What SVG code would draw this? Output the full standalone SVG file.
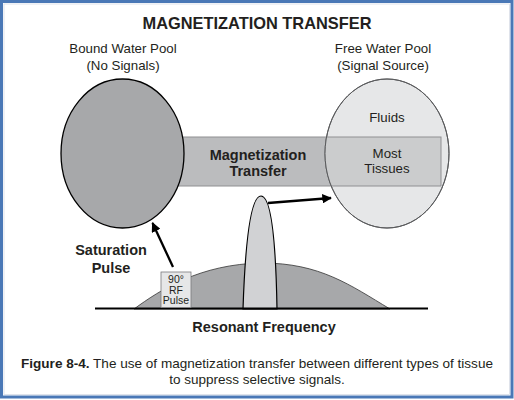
<svg xmlns="http://www.w3.org/2000/svg" width="514" height="400" viewBox="0 0 514 400">
<defs>
<style>
text{font-family:"Liberation Sans",Arial,sans-serif;fill:#231f20}
.b{font-weight:bold}
.lbl{font-size:13.3px}
.mid{text-anchor:middle}
</style>
<marker id="ah" viewBox="0 0 10 10" refX="9" refY="5" markerWidth="4.2" markerHeight="4.2" orient="auto" markerUnits="strokeWidth">
<path d="M0,0 L10,5 L0,10 Z" fill="#000"/>
</marker>
<clipPath id="freeClip"><ellipse cx="387" cy="153.5" rx="62" ry="74.5"/></clipPath>
</defs>
<rect x="1.5" y="1.5" width="510.5" height="395.5" fill="#fff" stroke="#4a78b6" stroke-width="3"/>
<rect x="4" y="4" width="505.5" height="390.5" fill="none" stroke="#d8dde6" stroke-width="0.8"/>

<text class="b mid" x="257" y="29" font-size="17" textLength="229" lengthAdjust="spacingAndGlyphs">MAGNETIZATION TRANSFER</text>

<g id="transfer-band">
<rect x="150" y="137" width="291" height="49" fill="#bbbcbe" stroke="#8f9092" stroke-width="1"/>
<text class="b mid" x="258" y="160" font-size="14.5">Magnetization</text>
<text class="b mid" x="258" y="176" font-size="14.5">Transfer</text>
</g>

<g id="bound-pool">
<ellipse cx="122.5" cy="153.5" rx="61.5" ry="74.5" fill="#a7a8aa" stroke="#000" stroke-width="1.3"/>
<text class="lbl mid" x="123" y="53">Bound Water Pool</text>
<text class="lbl mid" x="123" y="70">(No Signals)</text>
</g>

<g id="free-pool">
<ellipse cx="387" cy="153.5" rx="62" ry="74.5" fill="#e6e7e8" stroke="#5a5b5d" stroke-width="1"/>
<rect x="300" y="137" width="141" height="49" fill="#cbcccd" stroke="#8f9092" stroke-width="1" clip-path="url(#freeClip)"/>
<ellipse cx="387" cy="153.5" rx="62" ry="74.5" fill="none" stroke="#5a5b5d" stroke-width="1"/>
<text class="lbl mid" x="383" y="53">Free Water Pool</text>
<text class="lbl mid" x="383" y="70">(Signal Source)</text>
<text class="lbl mid" x="387" y="122">Fluids</text>
<text class="lbl mid" x="387" y="158">Most</text>
<text class="lbl mid" x="387" y="173">Tissues</text>
</g>

<g id="spectrum">
<path d="M134,309 C160,290 200,264 262,263 C320,263 350,285 390,309 Z" fill="#a7a8aa" stroke="#333" stroke-width="0.8"/>
<path d="M243,309 C245,250 250,196 261,196 C272,196 276,250 277,309 Z" fill="#d1d2d4" stroke="#000" stroke-width="1.2"/>
<line x1="95" y1="308.5" x2="428" y2="308.5" stroke="#000" stroke-width="2"/>
</g>

<g id="rf-pulse">
<rect x="161" y="272" width="30" height="35.5" fill="#e6e7e8" stroke="#7a7b7d" stroke-width="0.8"/>
<text class="mid" x="176" y="283" font-size="10.5">90°</text>
<text class="mid" x="176" y="293.5" font-size="10.5">RF</text>
<text class="mid" x="176" y="304" font-size="10.5">Pulse</text>
</g>

<g id="saturation-label">
<text class="b mid" x="111" y="255" font-size="14.5">Saturation</text>
<text class="b mid" x="111" y="273" font-size="14.5">Pulse</text>
</g>

<g id="connectors">
<line x1="173" y1="267" x2="152.5" y2="223" stroke="#000" stroke-width="2.3" marker-end="url(#ah)"/>
<line x1="268" y1="203" x2="331" y2="198" stroke="#000" stroke-width="2.3" marker-end="url(#ah)"/>
</g>

<text class="b mid" x="264" y="332" font-size="14.5">Resonant Frequency</text>

<text x="257" y="368" font-size="13.5" class="mid" textLength="472" lengthAdjust="spacingAndGlyphs"><tspan class="b">Figure 8-4.</tspan> The use of magnetization transfer between different types of tissue</text>
<text x="257" y="384" font-size="13.5" class="mid">to suppress selective signals.</text>
</svg>
